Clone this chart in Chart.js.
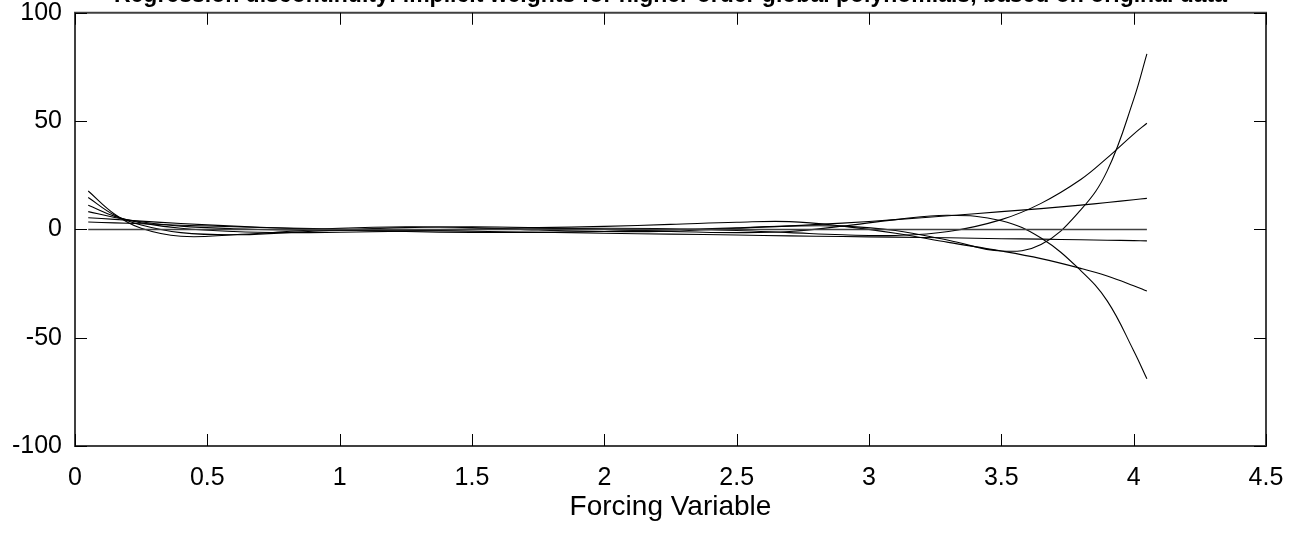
<html>
<head>
  <script src="https://cdn.jsdelivr.net/npm/chart.js"></script>
  <title>weights</title>
</head>
<body style="margin:0;background:#fff;">
  <div style="width:1297px;height:538px;">
    <canvas id="myChart"></canvas>
  </div>
  <script>
    const xs = [0.05, 0.15, 0.25, 0.4, 0.6, 0.8, 1.0, 1.25, 1.5, 1.75, 2.0, 2.25, 2.5, 2.7, 2.9, 3.1, 3.3, 3.5, 3.65, 3.8, 3.9, 4.0, 4.05];

    // weights, one array per polynomial curve
    const w0 = [0, 0, 0, 0, 0, 0, 0, 0, 0, 0, 0, 0, 0, 0, 0, 0, 0, 0, 0, 0, 0, 0, 0];
    const w1 = [3.4, 3.0, 2.6, 1.9, 1.2, 0.6, 0.1, -0.4, -0.9, -1.3, -1.8, -2.2, -2.6, -3.0, -3.3, -3.6, -3.9, -4.3, -4.5, -4.8, -5.0, -5.2, -5.3];
    const w2 = [5.4, 4.6, 3.8, 2.7, 1.5, 0.5, -0.3, -1.0, -1.4, -1.4, -1.0, -0.2, 0.7, 1.6, 2.9, 4.5, 6.3, 8.2, 9.6, 11.2, 12.4, 13.7, 14.3];
    const w3 = [8.2, 5.5, 3.5, 1.5, 0.3, -0.3, -0.5, -0.3, 0.2, 0.8, 1.4, 2.3, 3.3, 3.6, 1.5, -1.8, -6.0, -10.0, -13.5, -18.0, -21.5, -26.0, -28.5];
    const w4 = [11.1, 6.0, 3.0, 0.5, -1.0, -1.5, -1.3, -0.8, -0.2, 0.3, 0.5, 0.3, -0.5, -1.5, -2.5, -2.8, -1.0, 4.5, 12.0, 23.0, 33.0, 44.0, 49.0];
    const w5 = [14.7, 6.5, 2.0, -1.5, -2.5, -1.5, -0.3, 0.8, 1.2, 0.8, 0.0, -1.0, -1.5, -1.0, 1.5, 4.5, 6.5, 4.0, -4.0, -19.0, -33.0, -56.0, -69.0];
    const w6 = [17.7, 7.0, 0.5, -3.2, -2.5, -1.0, 0.5, 1.2, 0.8, -0.3, -1.0, -0.8, 0.5, 1.5, 1.5, -0.5, -5.0, -10.0, -7.0, 9.0, 27.0, 60.0, 81.0];

    const xTicks = [0, 0.5, 1, 1.5, 2, 2.5, 3, 3.5, 4, 4.5];
    const yTicks = [-100, -50, 0, 50, 100];

    const titleText = "Regression discontinuity: implicit weights for higher-order global polynomials, based on original data";
    const FONT = "'Liberation Sans', Arial, sans-serif";

    function toPoints(ys) {
      return xs.map((x, i) => ({ x: x, y: ys[i] }));
    }

    function curve(ys, color, width) {
      return {
        data: toPoints(ys),
        borderColor: color,
        borderWidth: width,
        pointRadius: 0,
        tension: 0.4,
        fill: false,
      };
    }

    // box, inward ticks and the clipped title
    const framePlugin = {
      id: "frame",
      afterDraw: (chart) => {
        const { ctx, chartArea: a, scales } = chart;
        ctx.save();
        ctx.strokeStyle = "#404040";
        ctx.lineWidth = 2;
        ctx.strokeRect(a.left, a.top, a.right - a.left, a.bottom - a.top);
        ctx.lineWidth = 1;
        ctx.strokeStyle = "#000";
        ctx.beginPath();
        xTicks.forEach((v) => {
          const px = Math.round(scales.x.getPixelForValue(v)) + 0.5;
          ctx.moveTo(px, a.bottom);
          ctx.lineTo(px, a.bottom - 12);
          ctx.moveTo(px, a.top);
          ctx.lineTo(px, a.top + 12);
        });
        yTicks.forEach((v) => {
          const py = Math.round(scales.y.getPixelForValue(v)) + 0.5;
          ctx.moveTo(a.left, py);
          ctx.lineTo(a.left + 12, py);
          ctx.moveTo(a.right, py);
          ctx.lineTo(a.right - 12, py);
        });
        ctx.stroke();
        ctx.fillStyle = "#000";
        ctx.font = "bold 23px " + FONT;
        ctx.textAlign = "center";
        ctx.textBaseline = "alphabetic";
        ctx.fillText(titleText, (a.left + a.right) / 2, 2);
        ctx.restore();
      },
    };

    new Chart(document.getElementById("myChart"), {
      type: "line",
      data: {
        datasets: [
          curve(w0, "#404040", 1.5),
          curve(w1, "#000", 1.1),
          curve(w2, "#000", 1.1),
          curve(w3, "#000", 1.1),
          curve(w4, "#000", 1.1),
          curve(w5, "#000", 1.1),
          curve(w6, "#000", 1.1),
        ],
      },
      options: {
        responsive: true,
        maintainAspectRatio: false,
        animation: false,
        layout: { padding: { top: 0, right: 31, left: 0, bottom: 0 } },
        scales: {
          x: {
            type: "linear",
            min: 0,
            max: 4.5,
            afterFit: (s) => { s.height = 92; },
            afterBuildTicks: (s) => { s.ticks = xTicks.map((v) => ({ value: v })); },
            grid: { display: false },
            border: { display: false },
            ticks: {
              padding: 9,
              color: "#000",
              font: { family: FONT, size: 25 },
              callback: (v) => String(v),
            },
            title: {
              display: true,
              text: "Forcing Variable",
              color: "#000",
              font: { family: FONT, size: 28 },
              padding: { top: 0, bottom: 14 },
            },
          },
          y: {
            min: -100,
            max: 100,
            afterFit: (s) => { s.width = 75; },
            afterBuildTicks: (s) => { s.ticks = yTicks.map((v) => ({ value: v })); },
            grid: { display: false },
            border: { display: false },
            ticks: {
              padding: 5,
              color: "#000",
              font: { family: FONT, size: 25, lineHeight: 0.62 },
            },
          },
        },
        plugins: {
          legend: { display: false },
          tooltip: { enabled: false },
        },
      },
      plugins: [framePlugin],
    });
  </script>
</body>
</html>
